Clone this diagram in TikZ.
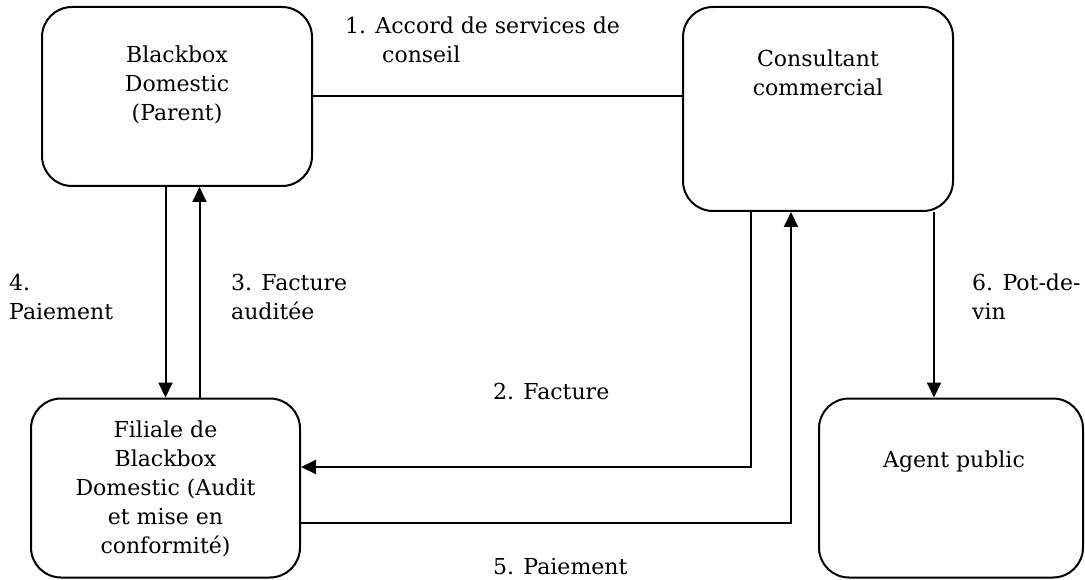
\documentclass[tikz,border=0pt]{standalone}
\usepackage{fontspec}
\setmainfont{DejaVu Serif}
\usetikzlibrary{arrows.meta}
\begin{document}
\begin{tikzpicture}[x=1pt,y=-1pt,
  every node/.style={font=\fontsize{22}{29}\selectfont},
  box/.style={draw,line width=2pt,rounded corners=30pt,inner sep=0pt},
  txt/.style={align=center,inner sep=0pt},
  lbl/.style={align=left,inner sep=0pt,anchor=west},
  conn/.style={line width=2pt},
  arr/.style={line width=2pt,-{Triangle[length=15pt,width=14pt]}}]
\useasboundingbox (0,0) rectangle (1085,580);
% boxes
\node[box,minimum width=270pt,minimum height=179pt] (b1) at (177,96.5) {};
\node[box,minimum width=270pt,minimum height=204pt] (b2) at (818,109) {};
\node[box,minimum width=269pt,minimum height=179pt] (b3) at (165.5,488) {};
\node[box,minimum width=264pt,minimum height=179pt] (b4) at (951,488) {};
% box texts
\node[txt] (t1) at (177,85) {Blackbox\\Domestic\\(Parent)};
\node[txt] (t2) at (818,72.5) {Consultant\\commercial};
\node[txt] (t3) at (165.5,489) {Filiale de\\Blackbox\\Domestic (Audit\\et mise en\\conformité)};
\node[txt] (t4) at (954,462) {Agent public};
% connectors
\draw[conn] (b1.east) -- (b2.west |- b1.east);
\draw[arr] (b3.north |- b1.south) -- (b3.north);
\draw[arr] ([xshift=34pt]b3.north) -- ([xshift=34pt]b3.north |- b1.south);
\draw[arr] ([xshift=-67pt]b2.south) |- ([yshift=21pt]b3.east);
\draw[arr] ([yshift=-35pt]b3.east) -| ([xshift=-27pt]b2.south);
\draw[arr] ([xshift=116pt]b2.south) -- ([xshift=116pt]b2.south |- b4.north);
% labels
\node[lbl] (l1) at (345,40) {1. Accord de services de\\\hspace*{37pt}conseil};
\node[lbl] (l4) at (9,297) {4.\\Paiement};
\node[lbl] (l3) at (231,297) {3. Facture\\auditée};
\node[lbl] (l2) at (493,391) {2. Facture};
\node[lbl] (l5) at (493,567) {5. Paiement};
\node[lbl] (l6) at (972,297) {6. Pot-de-\\vin};
\end{tikzpicture}
\end{document}
